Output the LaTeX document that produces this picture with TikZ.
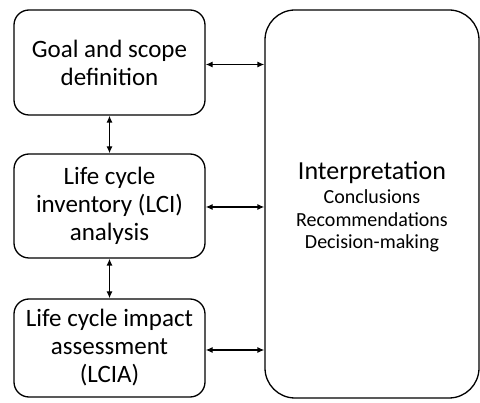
\documentclass[tikz,border=0pt]{standalone}
\usepackage{fontspec}
\setmainfont{Carlito}
\usetikzlibrary{arrows.meta}
\tikzset{
  stagebox/.style={draw=black, line width=1.3pt, rounded corners=15pt, minimum width=191pt, align=center, inner sep=0pt, font=\fontsize{25}{28}\selectfont},
  bigbox/.style={draw=black, line width=1.3pt, rounded corners=30pt, minimum width=214pt, minimum height=388pt, align=center, inner sep=0pt, font=\fontsize{20}{22.5}\selectfont},
  link/.style={line width=1.3pt, {Latex[length=7pt,width=6pt]}-{Latex[length=7pt,width=6pt]}}
}
\begin{document}
\begin{tikzpicture}[x=1pt,y=1pt]
\useasboundingbox (0,0) rectangle (480,-403);
\node[stagebox, minimum height=105pt] (goal) at (109.5,-62.5) {Goal and scope\\definition};
\node[stagebox, minimum height=104pt] (lci) at (109.5,-206) {Life cycle\\inventory (LCI)\\analysis};
\node[stagebox, minimum height=98pt] (lcia) at (109.5,-348) {Life cycle impact\\assessment\\(LCIA)};
\node[bigbox] (interp) at (372,-204) {};
\node[align=center, inner sep=0pt, font=\fontsize{20}{22.5}\selectfont] (interptext) at (372,-207) {{\fontsize{26}{28}\selectfont Interpretation}\\[1.5pt]Conclusions\\Recommendations\\Decision-making};
\draw[link] ([yshift=-2pt]goal.east) -- ([yshift=-2pt]goal.east -| interp.west);
\draw[link] ([yshift=-1pt]lci.east) -- ([yshift=-1pt]lci.east -| interp.west);
\draw[link] ([yshift=-2pt]lcia.east) -- ([yshift=-2pt]lcia.east -| interp.west);
\draw[link] (goal.south) -- (lci.north);
\draw[link] (lci.south) -- (lcia.north);
\end{tikzpicture}
\end{document}
